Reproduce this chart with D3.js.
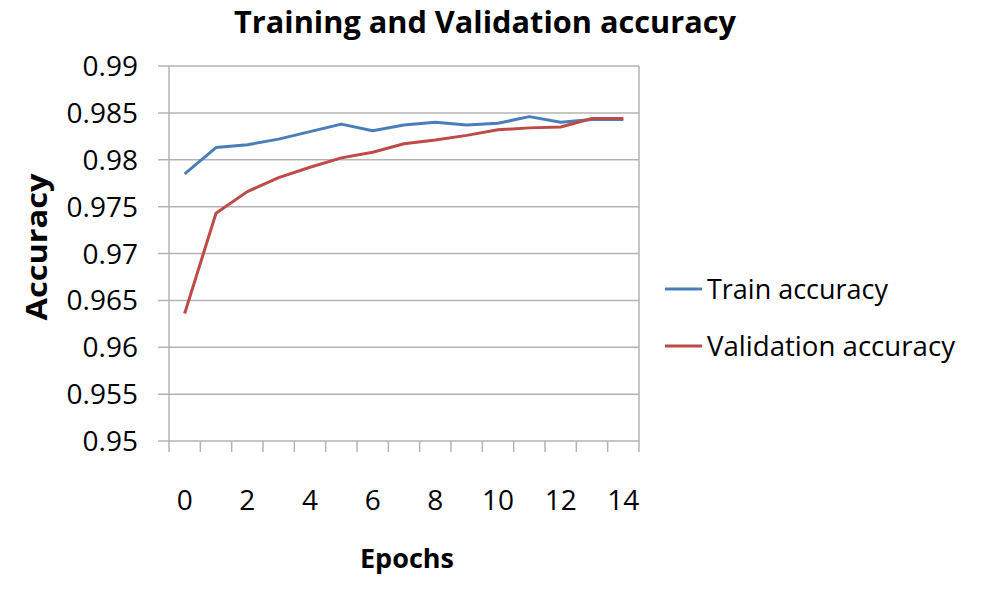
<!DOCTYPE html>
<html>
<head>
<meta charset="utf-8">
<script src="https://cdn.jsdelivr.net/npm/d3@7"></script>
<style>
    body { margin: 0; background: #fff; }
    text { font-family: "Open Sans", sans-serif; fill: #000; }
</style>
</head>
<body>
<div id="chart"></div>
<script>

// values
var epochs = [0, 1, 2, 3, 4, 5, 6, 7, 8, 9, 10, 11, 12, 13, 14];
var train_acc = [0.9785, 0.9813, 0.9816, 0.9822, 0.9830, 0.9838, 0.9831, 0.9837, 0.9840, 0.9837, 0.9839, 0.9846, 0.9840, 0.9843, 0.9843];
var val_acc = [0.9636, 0.9743, 0.9766, 0.9781, 0.9792, 0.9802, 0.9808, 0.9817, 0.9821, 0.9826, 0.9832, 0.9834, 0.9835, 0.9844, 0.9844];
var y_ticks = [0.95, 0.955, 0.96, 0.965, 0.97, 0.975, 0.98, 0.985, 0.99];
var x_labels = [0, 2, 4, 6, 8, 10, 12, 14];

var series = [
    {name: 'Train accuracy', values: train_acc, color: '#4a7ebb'},
    {name: 'Validation accuracy', values: val_acc, color: '#be4b48'}
];

var margin = {top: 66, right: 368, bottom: 159, left: 169},
    width = 1007 - margin.left - margin.right,
    height = 600 - margin.top - margin.bottom;

var svg = d3.select('#chart').append('svg')
        .attr('width', 1007)
        .attr('height', 600),
    g = svg.append('g')
        .attr('transform', 'translate(' + margin.left + ',' + margin.top + ')');

var x = d3.scaleBand()
    .domain(epochs)
    .range([0, width]);

var y = d3.scaleLinear()
    .domain([0.95, 0.99])
    .range([height, 0]);

// horizontal gridlines
g.selectAll('.grid')
    .data(y_ticks)
    .enter().append('line')
    .attr('x1', -11)
    .attr('x2', width)
    .attr('y1', function(d) { return y(d); })
    .attr('y2', function(d) { return y(d); })
    .style('stroke', '#b3b3b3')
    .style('stroke-width', 1.5);

// plot area left / right edges
g.selectAll('.edge')
    .data([0, width])
    .enter().append('line')
    .attr('x1', function(d) { return d; })
    .attr('x2', function(d) { return d; })
    .attr('y1', 0)
    .attr('y2', height)
    .style('stroke', '#b3b3b3')
    .style('stroke-width', 1.5);

// y tick labels
g.selectAll('.ylab')
    .data(y_ticks)
    .enter().append('text')
    .attr('x', -31)
    .attr('y', function(d) { return y(d); })
    .attr('dy', '0.36em')
    .style('text-anchor', 'end')
    .style('font-size', '28px')
    .text(function(d) { return d; });

// x axis: ticks at category boundaries
var bounds = epochs.map(function(d) { return x(d); }).concat([width]);
g.selectAll('.xtick')
    .data(bounds)
    .enter().append('line')
    .attr('x1', function(d) { return d; })
    .attr('x2', function(d) { return d; })
    .attr('y1', height)
    .attr('y2', height + 11)
    .style('stroke', '#b3b3b3')
    .style('stroke-width', 1.5);

g.selectAll('.xlab')
    .data(x_labels)
    .enter().append('text')
    .attr('x', function(d) { return x(d) + x.bandwidth() / 2; })
    .attr('y', height + 59)
    .attr('dy', '0.36em')
    .style('text-anchor', 'middle')
    .style('font-size', '28px')
    .text(function(d) { return d; });

// lines
var line = d3.line()
    .x(function(d, i) { return x(epochs[i]) + x.bandwidth() / 2; })
    .y(function(d) { return y(d); });

g.selectAll('.series')
    .data(series)
    .enter().append('path')
    .attr('d', function(d) { return line(d.values); })
    .style('fill', 'none')
    .style('stroke', function(d) { return d.color; })
    .style('stroke-width', 3)
    .style('stroke-linejoin', 'round');

// titles
svg.append('text')
    .attr('x', 485)
    .attr('y', 33)
    .style('text-anchor', 'middle')
    .style('font-size', '31px')
    .style('font-weight', 'bold')
    .attr('textLength', 502)
    .attr('lengthAdjust', 'spacingAndGlyphs')
    .text('Training and Validation accuracy');

svg.append('text')
    .attr('transform', 'translate(37,247) rotate(-90)')
    .attr('dy', '0.36em')
    .style('text-anchor', 'middle')
    .style('font-size', '28px')
    .style('font-weight', 'bold')
    .attr('textLength', 147)
    .attr('lengthAdjust', 'spacingAndGlyphs')
    .text('Accuracy');

svg.append('text')
    .attr('x', 407)
    .attr('y', 558)
    .attr('dy', '0.36em')
    .style('text-anchor', 'middle')
    .style('font-size', '27px')
    .style('font-weight', 'bold')
    .text('Epochs');

// legend
var legend = svg.selectAll('.legend')
    .data(series)
    .enter().append('g')
    .attr('transform', function(d, i) { return 'translate(665,' + (289 + i * 57) + ')'; });

legend.append('line')
    .attr('x1', 0)
    .attr('x2', 37)
    .style('stroke', function(d) { return d.color; })
    .style('stroke-width', 3);

legend.append('text')
    .attr('x', 42)
    .attr('dy', '0.36em')
    .style('font-size', '28px')
    .attr('textLength', function(d, i) { return i ? 248 : 181; })
    .attr('lengthAdjust', 'spacingAndGlyphs')
    .text(function(d) { return d.name; });

</script>
</body>
</html>
